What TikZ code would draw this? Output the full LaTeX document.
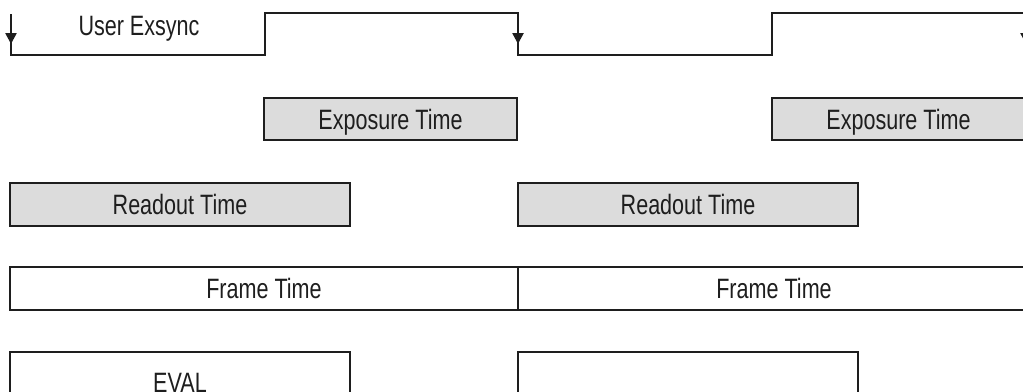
\documentclass[tikz,border=0pt]{standalone}
\usepackage{fontspec}
\setmainfont[FakeStretch=0.77]{Liberation Sans}
\usetikzlibrary{arrows.meta}
\definecolor{boxgray}{HTML}{DCDCDC}
\definecolor{ink}{HTML}{1E1E1E}
\begin{document}
\begin{tikzpicture}[x=1pt,y=-1pt,
  every node/.style={font=\fontsize{28}{30}\selectfont, text=ink},
  boxbase/.style={draw=ink, line width=2.8pt, inner sep=0pt, outer sep=0pt,
    anchor=north west, text height=20pt, text depth=0pt},
  phase/.style={boxbase, fill=boxgray},
  span/.style={boxbase, fill=white},
  wave/.style={draw=ink, line width=2.5pt},
  edgetip/.style={-{Triangle[width=11pt,length=11pt]}, draw=ink, fill=ink, line width=2.5pt}]

  % page frame; everything outside is cut off
  \clip (0,0) rectangle (1023,391);

  % User Exsync waveform
  \coordinate (s0t) at (11,14);
  \coordinate (s0m) at (11,44);
  \coordinate (s0b) at (11,55);
  \coordinate (r1b) at (265,55);
  \coordinate (r1t) at (265,13);
  \coordinate (f1t) at (518,13);
  \coordinate (f1m) at (518,44);
  \coordinate (f1b) at (518,55);
  \coordinate (r2b) at (772,55);
  \coordinate (r2t) at (772,13);
  \coordinate (f2t) at (1026,13);
  \coordinate (f2m) at (1026,44);
  \coordinate (f2b) at (1026,55);

  \draw[wave] (s0t) -- (s0b) -- (r1b) -- (r1t) -- (f1t) -- (f1b)
              -- (r2b) -- (r2t) -- (f2t) -- (f2b);
  \draw[edgetip] (s0t) -- (s0m);
  \draw[edgetip] (f1t) -- (f1m);
  \draw[edgetip] (f2t) -- (f2m);

  \node[anchor=base] (exsync) at (139,35) {User Exsync};

  % exposure phases
  \node[phase, minimum width=253pt, minimum height=42pt] (exp1) at (264,98) {Exposure Time};
  \node[phase, minimum width=253pt, minimum height=42pt] (exp2) at (772,98) {Exposure Time};

  % readout phases
  \node[phase, minimum width=340pt, minimum height=43pt] (ro1) at (10,183) {Readout Time};
  \node[phase, minimum width=340pt, minimum height=43pt] (ro2) at (518,183) {Readout Time};

  % frame periods
  \node[span, minimum width=508pt, minimum height=43pt] (fr1) at (10,267) {Frame Time};
  \node[span, minimum width=512pt, minimum height=43pt] (fr2) at (518,267) {Frame Time};

  % EVAL signal
  \node[span, minimum width=340pt, minimum height=60pt] (ev1) at (10,352) {EVAL};
  \node[span, minimum width=340pt, minimum height=60pt] (ev2) at (518,352) {};
\end{tikzpicture}
\end{document}
